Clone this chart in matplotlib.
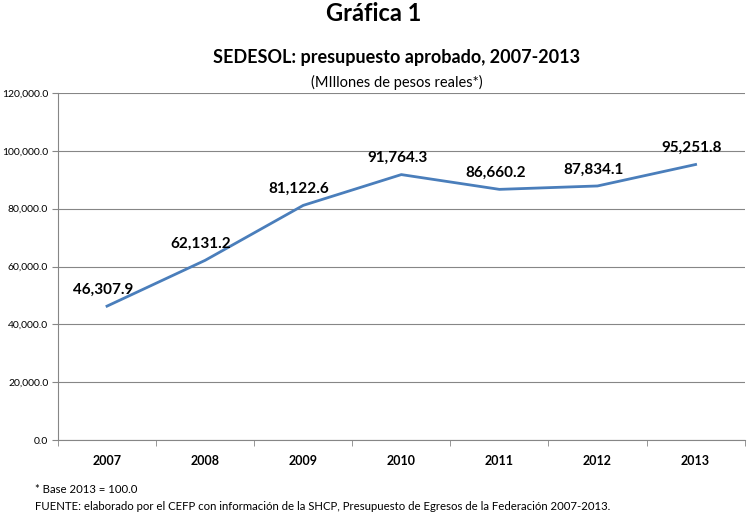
import numpy as np
import matplotlib.pyplot as plt
from matplotlib.ticker import FuncFormatter

plt.rcParams['font.family'] = ['Lato', 'DejaVu Sans']

# Data
years = ['2007', '2008', '2009', '2010', '2011', '2012', '2013']
budget = [46307.9, 62131.2, 81122.6, 91764.3, 86660.2, 87834.1, 95251.8]
y_ticks = [0, 20000, 40000, 60000, 80000, 100000, 120000]

fig = plt.figure(figsize=(7.48, 5.16), dpi=100)
ax = fig.add_axes([0.0775, 0.147, 0.918, 0.673])

x = np.arange(len(years))
ax.plot(x, budget, color='#4A7EBB', linewidth=2.0)

# data labels above-left of each point
for xi, v in zip(x, budget):
    ax.annotate(f'{v:,.1f}', (xi, v), xytext=(-3, 12), textcoords='offset points',
                ha='center', va='center', fontsize=11, fontweight='bold')

ax.set_xlim(-0.5, len(years) - 0.5)
ax.set_ylim(0, 120000)
ax.set_yticks(y_ticks)
ax.yaxis.set_major_formatter(FuncFormatter(lambda v, p: f'{v:,.1f}'))
ax.set_xticks(x)
ax.set_xticklabels(years, fontweight='bold', fontsize=9)
ax.set_xticks(np.arange(-0.5, len(years), 1.0), minor=True)
ax.tick_params(axis='x', which='major', length=0, pad=11)
ax.tick_params(axis='x', which='minor', length=4, color='#868686')
ax.tick_params(axis='y', length=4, color='#868686', labelsize=7.5, pad=3)

ax.grid(axis='y', color='#868686', linewidth=0.8)
ax.set_axisbelow(True)
for s in ['top', 'right']:
    ax.spines[s].set_visible(False)
for s in ['left', 'bottom']:
    ax.spines[s].set_color('#868686')
    ax.spines[s].set_linewidth(0.8)

fig.text(0.5, 0.973, 'Gráfica 1', ha='center', va='center', fontsize=17, fontweight='bold')
fig.text(0.53, 0.888, 'SEDESOL: presupuesto aprobado, 2007-2013', ha='center', va='center',
         fontsize=13, fontweight='bold')
fig.text(0.53, 0.841, '(MIllones de pesos reales*)', ha='center', va='center', fontsize=10.5)
fig.text(0.047, 0.052, '* Base 2013 = 100.0', ha='left', va='center', fontsize=8.2)
fig.text(0.047, 0.019, 'FUENTE: elaborado por el CEFP con información de la SHCP, Presupuesto de Egresos de la Federación 2007-2013.',
         ha='left', va='center', fontsize=8.2)

fig.savefig('out.png', dpi=100)
